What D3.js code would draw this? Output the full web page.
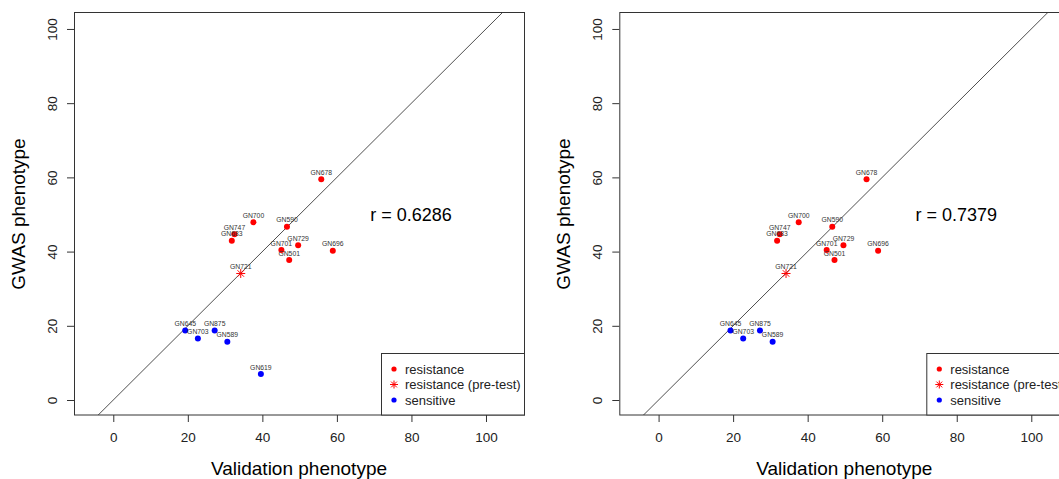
<!DOCTYPE html>
<html>
<head>
<meta charset="utf-8">
<script src="https://cdn.jsdelivr.net/npm/d3@7"></script>
<style>
  body { margin: 0; background: #fff; }
  svg { font-family: "Liberation Sans", Arial, sans-serif; }
</style>
</head>
<body>
<svg id="chart" width="1059" height="479"></svg>
<script>
// accessions, validation phenotype (x), GWAS phenotype (y), group
var names      = ["GN678", "GN700", "GN590", "GN747", "GN683", "GN729", "GN701", "GN501", "GN696", "GN721", "GN645", "GN703", "GN875", "GN589", "GN619"];
var validation = [55.8, 37.6, 46.6, 32.5, 31.8, 49.6, 45.1, 47.2, 58.9, 34.2, 19.3, 22.7, 27.2, 30.6, 39.6];
var gwas       = [59.5, 47.9, 46.7, 44.7, 42.9, 41.7, 40.4, 37.7, 40.2, 34.1, 18.7, 16.6, 18.7, 15.7, 7.0];
var groups     = ["resistance", "resistance", "resistance", "resistance", "resistance", "resistance", "resistance", "resistance", "resistance", "pretest", "sensitive", "sensitive", "sensitive", "sensitive", "sensitive"];

var panelExcluded = [[], ["GN619"]];
var rValues = ["r = 0.6286", "r = 0.7379"];
var tickValues = [0, 20, 40, 60, 80, 100];
var legendLabels = ["resistance", "resistance (pre-test)", "sensitive"];
var legendKeys = ["resistance", "pretest", "sensitive"];

var colors = { resistance: "#ff0000", pretest: "#ff0000", sensitive: "#0000ff" };

var PANEL_OFFSET = 545.3;
var svg = d3.select("#chart");

function star(g, cx, cy, r, color) {
	var d = r * 0.72;
	var path = "M" + (cx - r) + "," + cy + "H" + (cx + r) +
		"M" + cx + "," + (cy - r) + "V" + (cy + r) +
		"M" + (cx - d) + "," + (cy - d) + "L" + (cx + d) + "," + (cy + d) +
		"M" + (cx - d) + "," + (cy + d) + "L" + (cx + d) + "," + (cy - d);
	g.append("path").attr("d", path).attr("stroke", color).attr("stroke-width", 1).attr("fill", "none");
}

function drawPanel(p) {
	var g = svg.append("g").attr("transform", "translate(" + (p * PANEL_OFFSET) + ",0)");
	var x = d3.scaleLinear().domain([-10.54, 110.2]).range([74, 524]);
	var y = d3.scaleLinear().domain([-4.04, 104.3]).range([415, 13]);

	var pts = [];
	for (var i = 0; i < names.length; i++) {
		if (panelExcluded[p].indexOf(names[i]) >= 0) continue;
		pts.push({ name: names[i], vx: validation[i], gy: gwas[i], grp: groups[i] });
	}

	var clipId = "clip" + p;
	g.append("clipPath").attr("id", clipId)
		.append("rect").attr("x", 74).attr("y", 13).attr("width", 450).attr("height", 402);

	// y = x reference line
	g.append("line")
		.attr("clip-path", "url(#" + clipId + ")")
		.attr("x1", x(-20)).attr("y1", y(-20))
		.attr("x2", x(120)).attr("y2", y(120))
		.attr("stroke", "#222").attr("stroke-width", 0.8);

	// axes
	var xAxis = g.append("g").attr("transform", "translate(0,415)")
		.call(d3.axisBottom(x).tickValues(tickValues).tickSize(7).tickPadding(10));
	var yAxis = g.append("g").attr("transform", "translate(74,0)")
		.call(d3.axisLeft(y).tickValues(tickValues).tickSize(7).tickPadding(0));
	[xAxis, yAxis].forEach(function (a) {
		a.select(".domain").remove();
		a.selectAll(".tick line").attr("stroke", "#333");
		a.selectAll(".tick text").attr("fill", "#222").style("font-size", "13.5px")
			.style("font-family", "'Liberation Sans', Arial, sans-serif");
	});
	xAxis.selectAll(".tick text").attr("dy", "0.71em");
	yAxis.selectAll(".tick text")
		.attr("x", null).attr("dy", null)
		.attr("text-anchor", "middle")
		.attr("transform", "translate(-22,0) rotate(-90)")
		.attr("y", 4.5);

	g.append("rect").attr("x", 74.5).attr("y", 12.5).attr("width", 450).attr("height", 402.5)
		.attr("fill", "none").attr("stroke", "#333").attr("stroke-width", 1);

	// points
	pts.forEach(function (d) {
		if (d.grp === "pretest") {
			star(g, x(d.vx), y(d.gy), 4.5, colors.pretest);
		} else {
			g.append("circle").attr("cx", x(d.vx)).attr("cy", y(d.gy)).attr("r", 3)
				.attr("fill", colors[d.grp]);
		}
	});
	// labels
	g.selectAll("text.lab").data(pts).enter().append("text")
		.attr("class", "lab")
		.attr("x", function (d) { return x(d.vx); })
		.attr("y", function (d) { return y(d.gy) - 4.5; })
		.attr("text-anchor", "middle")
		.attr("fill", "#333")
		.style("font-size", "6.8px")
		.text(function (d) { return d.name; });

	// correlation
	g.append("text").attr("x", 411).attr("y", 221).attr("text-anchor", "middle")
		.style("font-size", "18px").attr("fill", "#000").text(rValues[p]);

	// legend
	var lg = g.append("g");
	lg.append("rect").attr("x", 381.5).attr("y", 353.5).attr("width", 143).attr("height", 61.5)
		.attr("fill", "#fff").attr("stroke", "#333").attr("stroke-width", 1);
	legendLabels.forEach(function (lab, i) {
		var ly = 369 + i * 15.5;
		if (legendKeys[i] === "pretest") {
			star(lg, 394, ly, 4, colors.pretest);
		} else {
			lg.append("circle").attr("cx", 394).attr("cy", ly).attr("r", 2.6).attr("fill", colors[legendKeys[i]]);
		}
		lg.append("text").attr("x", 405).attr("y", ly + 4.5).style("font-size", "13px")
			.attr("fill", "#222").text(lab);
	});

	// axis titles
	g.append("text").attr("x", 299).attr("y", 475).attr("text-anchor", "middle")
		.style("font-size", "19px").attr("fill", "#000").text("Validation phenotype");
	g.append("text").attr("transform", "translate(25,214) rotate(-90)").attr("text-anchor", "middle")
		.style("font-size", "19px").attr("fill", "#000").text("GWAS phenotype");
}

drawPanel(0);
drawPanel(1);
</script>
</body>
</html>
